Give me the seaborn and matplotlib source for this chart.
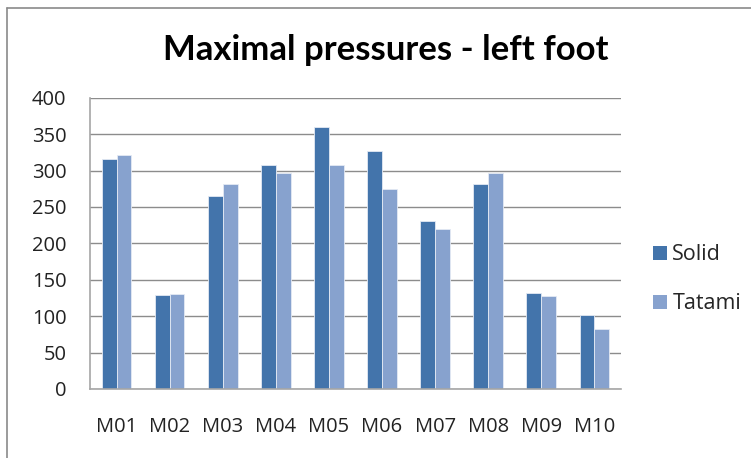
import matplotlib
matplotlib.use("Agg")
import matplotlib.pyplot as plt
from matplotlib.lines import Line2D
from matplotlib.patches import Patch
import seaborn as sns
import pandas as pd

# Measurements
categories = ["M01", "M02", "M03", "M04", "M05", "M06", "M07", "M08", "M09", "M10"]
solid = [316, 129, 265, 308, 360, 327, 230, 282, 132, 101]
tatami = [321, 131, 282, 297, 308, 274, 220, 297, 128, 82]
series_names = ["Solid", "Tatami"]
y_ticks = [0, 50, 100, 150, 200, 250, 300, 350, 400]
title_text = "Maximal pressures - left foot"

colors = {"Solid": "#4374AB", "Tatami": "#87A2CE"}

df = pd.DataFrame({
    "category": categories * 2,
    "value": solid + tatami,
    "series": [series_names[0]] * len(categories) + [series_names[1]] * len(categories),
})

sns.set_theme(style="white")
plt.rcParams["font.family"] = ["Open Sans", "DejaVu Sans"]

fig = plt.figure(figsize=(7.51, 4.58), dpi=100)
ax = fig.add_axes([0.1198, 0.1507, 0.707, 0.636])

sns.barplot(data=df, x="category", y="value", hue="series", palette=colors,
            width=0.56, gap=0, ax=ax, legend=False,
            edgecolor="#e4eaf4", linewidth=0.6, saturation=1)

ax.set_ylim(0, 400)
ax.set_xlim(-0.5, len(categories) - 0.5)
ax.set_yticks(y_ticks)
ax.set_yticklabels([str(t) for t in y_ticks], fontsize=14.5, color="#222222")
ax.tick_params(axis="y", length=0, pad=17)
ax.tick_params(axis="x", length=0, pad=20, labelsize=14.5, labelcolor="#222222")
ax.set_xlabel("")
ax.set_ylabel("")

ax.yaxis.grid(True, color="#8c8c8c", linewidth=1.0)
ax.set_axisbelow(True)
for side in ["top", "right"]:
    ax.spines[side].set_visible(False)
for side in ["left", "bottom"]:
    ax.spines[side].set_visible(True)
    ax.spines[side].set_color("#a6a6a6")
    ax.spines[side].set_linewidth(1.2)

fig.text(0.514, 0.89, title_text, ha="center", va="center",
         fontsize=25, fontweight="bold", color="#000000", family=["Lato", "DejaVu Sans"])

handles = [Patch(facecolor=colors[s], edgecolor="none", label=s) for s in series_names]
fig.legend(handles=handles, loc="center left", bbox_to_anchor=(0.858, 0.39),
           frameon=False, fontsize=15.5, handlelength=0.65, handleheight=0.65,
           handletextpad=0.25, labelspacing=1.3, borderaxespad=0)

# Chart frame (top and left edges visible)
fig.add_artist(Line2D([7 / 751, 7 / 751], [0, 1 - 8 / 458], transform=fig.transFigure,
                      color="#8a8a8a", linewidth=1.2))
fig.add_artist(Line2D([7 / 751, 1], [1 - 8 / 458, 1 - 8 / 458], transform=fig.transFigure,
                      color="#8a8a8a", linewidth=1.2))

fig.savefig("out.png", dpi=100)
